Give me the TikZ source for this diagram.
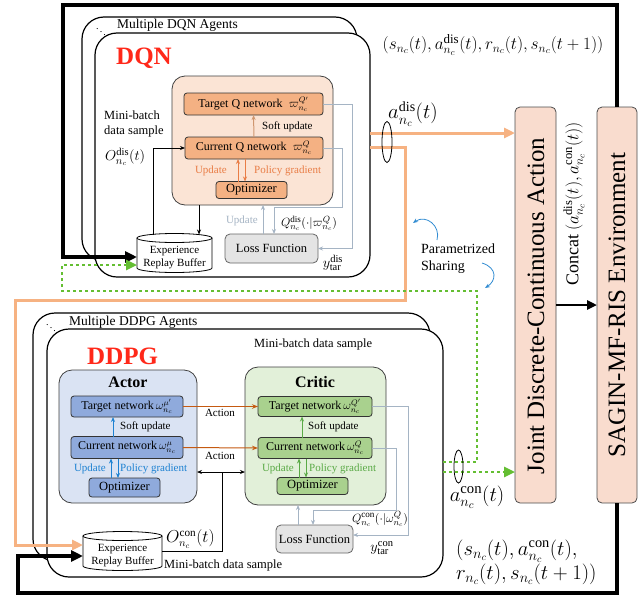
\documentclass[tikz,border=0pt]{standalone}
\usepackage{fontspec}
\setmainfont{Liberation Serif}
\usetikzlibrary{arrows.meta,shapes.geometric}

\definecolor{dqnpanel}{RGB}{251,228,213}
\definecolor{dqnbox}{RGB}{244,177,131}
\definecolor{dqntext}{RGB}{233,125,70}
\definecolor{orangeln}{RGB}{246,178,130}
\definecolor{actpanel}{RGB}{218,227,243}
\definecolor{actbox}{RGB}{143,170,220}
\definecolor{acttext}{RGB}{30,130,210}
\definecolor{crtpanel}{RGB}{226,240,217}
\definecolor{crtbox}{RGB}{169,209,142}
\definecolor{crttext}{RGB}{90,170,70}
\definecolor{lossfill}{RGB}{228,228,228}
\definecolor{grayln}{RGB}{165,180,196}
\definecolor{actionln}{RGB}{197,90,17}
\definecolor{greenln}{RGB}{100,190,50}
\definecolor{tallfill}{RGB}{249,220,206}
\definecolor{redtitle}{RGB}{255,40,25}
\definecolor{bluecurve}{RGB}{50,140,210}

\tikzset{
  agentbox/.style={draw=black, line width=1.2pt, rounded corners=22pt, fill=white, inner sep=0pt, outer sep=0pt},
  panelbox/.style={draw=black!75, line width=0.8pt, rounded corners=13pt, inner sep=0pt, outer sep=0pt},
  netbox/.style={draw=black!80, line width=0.8pt, rounded corners=3pt, inner sep=0pt, outer sep=0pt, font=\fontsize{12}{14}\selectfont},
  lossbox/.style={netbox, fill=lossfill, draw=black!60, rounded corners=5pt, font=\fontsize{12.5}{15}\selectfont},
  tallbox/.style={draw=black!70, line width=0.8pt, rounded corners=5pt, fill=tallfill, inner sep=0pt, outer sep=0pt},
  bufspace/.style={inner sep=0pt, outer sep=0pt, align=center, font=\fontsize{11}{13}\selectfont},
  lbl/.style={inner sep=0pt, font=\fontsize{12.5}{15}\selectfont},
  mathlbl/.style={inner sep=0pt, font=\fontsize{15}{18}\selectfont},
  actlbl/.style={inner sep=0pt, font=\fontsize{20}{23}\selectfont},
  smalllbl/.style={inner sep=0pt, font=\fontsize{11}{13}\selectfont},
  title/.style={inner sep=0pt, font=\fontsize{25}{28}\bfseries\selectfont, text=redtitle},
  looparrow/.style={line width=3.5pt, -{Triangle[length=12pt,width=11pt]}},
  orangeline/.style={draw=orangeln, line width=3pt},
  orangearrow/.style={orangeline, -{Triangle[length=11pt,width=10pt]}},
  greenline/.style={draw=greenln, line width=2.6pt, dash pattern=on 3pt off 3pt},
  greenarrow/.style={greenline, -{Triangle[length=11pt,width=10pt]}},
  grayarrow/.style={draw=grayln, line width=1pt, -{Stealth[length=5pt,width=4pt]}},
  thinarrow/.style={line width=1pt, -{Stealth[length=5pt,width=4pt]}},
  actionarrow/.style={draw=actionln, line width=1pt, -{Stealth[length=6pt,width=4.5pt]}},
}

\begin{document}
\begin{tikzpicture}[x=1pt,y=-1pt]
\useasboundingbox (0,0) rectangle (644,597);

% ---------------- DQN agents ----------------
\node[agentbox, minimum width=275pt, minimum height=244pt] (dqnBack) at (219.5,139) {};
\node[inner sep=0pt, font=\fontsize{10}{10}\selectfont] (dqnDots) at (101,29) {$\ddots$};
\node[lbl, anchor=west, font=\fontsize{13.5}{16}\selectfont] (dqnMulti) at (117,25) {Multiple DQN Agents};
\node[agentbox, minimum width=275pt, minimum height=244pt] (dqnFront) at (232.5,155) {};
\node[title, anchor=west] (dqnTitle) at (116,58) {DQN};

\node[panelbox, fill=dqnpanel, minimum width=161pt, minimum height=129pt] (dqnPanel) at (252.5,140.5) {};
\node[netbox, fill=dqnbox, minimum width=139pt, minimum height=22pt] (tq) at (253.5,104) {Target Q network\; $\varpi^{Q'}_{n_c}$};
\node[netbox, fill=dqnbox, minimum width=138pt, minimum height=22pt] (cq) at (254,148) {Current Q network\; $\varpi^{Q}_{n_c}$};
\node[netbox, fill=dqnbox, minimum width=71pt, minimum height=17pt, font=\fontsize{12.5}{15}\selectfont] (opt1) at (251.5,190) {Optimizer};

\node[smalllbl, anchor=west] (su1) at (262,127) {Soft update};
\node[smalllbl, anchor=east, text=dqntext] (up1) at (227,171) {Update};
\node[smalllbl, anchor=west, text=dqntext] (pg1) at (254,171) {Policy gradient};

\node[lbl, align=left, anchor=west] (mb1) at (104,124) {Mini-batch\\data sample};
\node[mathlbl, anchor=west] (odis) at (105,157) {$O^{\mathrm{dis}}_{n_c}(t)$};

% replay buffer (DQN)
\node[bufspace, minimum width=75pt, minimum height=30pt] (rb1) at (174.5,253) {};
\draw[line width=0.8pt, fill=white] (rb1.north west) -- (rb1.south west)
  arc[start angle=180, end angle=360, x radius=37.5pt, y radius=4.5pt] -- (rb1.north east);
\draw[line width=0.8pt, fill=white] (rb1.north) ellipse [x radius=37.5pt, y radius=4.5pt];
\node[bufspace] (rb1txt) at (174.5,258) {Experience\\Replay Buffer};

\node[lossbox, minimum width=93pt, minimum height=29pt] (loss1) at (271.5,248.5) {Loss Function};
\node[smalllbl, anchor=east, text=grayln] (up1g) at (258,221) {Update};
\node[inner sep=0pt, font=\fontsize{13}{15}\selectfont] (qdis) at (309,223) {$Q^{\mathrm{dis}}_{n_c}(\cdot|\varpi^{Q}_{n_c})$};
\node[mathlbl] (ydis) at (333,263) {$y^{\mathrm{dis}}_{\mathrm{tar}}$};

% DQN internal connectors
\draw[thinarrow, draw=dqnbox!85!black] (cq.north) -- (tq.south);
\draw[thinarrow, draw=dqntext] ([xshift=-13.5pt]opt1.north) -- ([xshift=-13.5pt]opt1.north |- cq.south);
\draw[thinarrow, draw=dqntext] ([xshift=-6.5pt]opt1.north |- cq.south) -- ([xshift=-6.5pt]opt1.north);
\draw[thinarrow] ([xshift=24.5pt]rb1.north |- dqnPanel.south) -- ([xshift=24.5pt,yshift=3.5pt]rb1.north);
\draw[thinarrow] ([xshift=-21.5pt,yshift=3pt]rb1.north) |- (cq.west);
\coordinate (g1) at (342,207);
\draw[grayarrow] (tq.east) -| ([xshift=34pt]loss1.east) -- (loss1.east);
\draw[grayarrow] (cq.east) -| (g1) -| ([xshift=2.5pt]loss1.north);
\draw[grayarrow] ([xshift=-8.5pt]loss1.north) -- ([xshift=-8.5pt]loss1.north |- dqnPanel.south);

% ---------------- DDPG agents ----------------
\node[agentbox, minimum width=397pt, minimum height=248pt] (ddpgBack) at (231.5,437) {};
\node[inner sep=0pt, font=\fontsize{10}{10}\selectfont] (ddpgDots) at (51,325) {$\ddots$};
\node[lbl, anchor=west, font=\fontsize{13.5}{16}\selectfont] (ddpgMulti) at (69,322) {Multiple DDPG Agents};
\node[agentbox, minimum width=396pt, minimum height=248pt] (ddpgFront) at (245,453) {};
\node[title, anchor=west] (ddpgTitle) at (87,356) {DDPG};
\node[lbl, anchor=west] (mb2) at (254,344) {Mini-batch data sample};

% actor
\node[panelbox, fill=actpanel, minimum width=138pt, minimum height=133pt] (actor) at (128,436.5) {};
\node[inner sep=0pt, font=\fontsize{16}{18}\bfseries\selectfont] (actorT) at (128,382) {Actor};
\node[netbox, fill=actbox, minimum width=112pt, minimum height=21pt] (atn) at (127,406.5) {Target network\,$\omega^{\mu'}_{n_c}$};
\node[netbox, fill=actbox, minimum width=112pt, minimum height=22pt] (acn) at (127,447.5) {Current network\,$\omega^{\mu}_{n_c}$};
\node[netbox, fill=actbox, minimum width=71pt, minimum height=19pt, font=\fontsize{12.5}{15}\selectfont] (aopt) at (124.5,487.5) {Optimizer};
\node[smalllbl, anchor=west] (su2) at (120,427) {Soft update};
\node[smalllbl, anchor=east, text=acttext] (up2) at (106,469) {Update};
\node[smalllbl, anchor=west, text=acttext] (pg2) at (120,469) {Policy gradient};
\draw[thinarrow, draw=acttext] ([xshift=-14pt]acn.north) -- ([xshift=-14pt]atn.south);
\draw[thinarrow, draw=acttext] ([xshift=-13.5pt]aopt.north) -- ([xshift=-13.5pt]aopt.north |- acn.south);
\draw[thinarrow, draw=acttext] ([xshift=-6.5pt]aopt.north |- acn.south) -- ([xshift=-6.5pt]aopt.north);

% critic
\node[panelbox, fill=crtpanel, minimum width=141pt, minimum height=138pt] (critic) at (315.5,436) {};
\node[inner sep=0pt, font=\fontsize{16}{18}\bfseries\selectfont] (criticT) at (315,382) {Critic};
\node[netbox, fill=crtbox, minimum width=114pt, minimum height=20pt] (ctn) at (315,406.5) {Target network\,$\omega^{Q'}_{n_c}$};
\node[netbox, fill=crtbox, minimum width=114pt, minimum height=21pt] (ccn) at (315,448) {Current network\,$\omega^{Q}_{n_c}$};
\node[netbox, fill=crtbox, minimum width=71pt, minimum height=17pt, font=\fontsize{12.5}{15}\selectfont] (copt) at (312.5,486) {Optimizer};
\node[smalllbl, anchor=west] (su3) at (308,427) {Soft update};
\node[smalllbl, anchor=east, text=crttext] (up3) at (294,469) {Update};
\node[smalllbl, anchor=west, text=crttext] (pg3) at (309,469) {Policy gradient};
\draw[thinarrow, draw=crttext] ([xshift=-13pt]ccn.north) -- ([xshift=-13pt]ctn.south);
\draw[thinarrow, draw=crttext] ([xshift=-13.5pt]copt.north) -- ([xshift=-13.5pt]copt.north |- ccn.south);
\draw[thinarrow, draw=crttext] ([xshift=-6.5pt]copt.north |- ccn.south) -- ([xshift=-6.5pt]copt.north);

% actions between actor and critic
\draw[actionarrow] (atn.east) -- (ctn.west);
\draw[actionarrow] (acn.east) -- (ccn.west);
\node[smalllbl] (act1) at (220,413) {Action};
\node[smalllbl] (act2) at (220,456) {Action};

% replay buffer (DDPG)
\node[bufspace, minimum width=79pt, minimum height=30pt] (rb2) at (122.5,551) {};
\draw[line width=0.8pt, fill=white] (rb2.north west) -- (rb2.south west)
  arc[start angle=180, end angle=360, x radius=39.5pt, y radius=4.5pt] -- (rb2.north east);
\draw[line width=0.8pt, fill=white] (rb2.north) ellipse [x radius=39.5pt, y radius=4.5pt];
\node[bufspace] (rb2txt) at (122.5,556) {Experience\\Replay Buffer};

\coordinate (mbSplit) at (222,472);
\draw[line width=1pt, {Stealth[length=5pt,width=4pt]}-{Stealth[length=5pt,width=4pt]}] (mbSplit -| actor.east) -- (mbSplit -| critic.west);
\draw[line width=1pt] (mbSplit) |- (rb2.east);
\node[mathlbl, anchor=west, font=\fontsize{16}{19}\selectfont] (ocon) at (166,539) {$O^{\mathrm{con}}_{n_c}(t)$};
\node[lbl, anchor=west] (mb3) at (164,565) {Mini-batch data sample};

% loss (DDPG)
\node[lossbox, minimum width=77pt, minimum height=28pt] (loss2) at (314.5,539) {Loss Function};
\coordinate (g2) at (396,510);
\draw[grayarrow] (ctn.east) -| ([xshift=55pt,yshift=4pt]loss2.east) -- ([yshift=4pt]loss2.east);
\draw[grayarrow] (ccn.east) -| (g2) -| ([xshift=-1.5pt]loss2.north);
\draw[grayarrow] ([xshift=-16.5pt]loss2.north) -- ([xshift=-16.5pt]loss2.north |- critic.south);
\node[inner sep=0pt, font=\fontsize{13}{15}\selectfont] (qcon) at (380,519) {$Q^{\mathrm{con}}_{n_c}(\cdot|\omega^{Q}_{n_c})$};
\node[mathlbl] (ycon) at (382,548) {$y^{\mathrm{con}}_{\mathrm{tar}}$};

% ---------------- action joiner and environment ----------------
\node[tallbox, minimum width=41pt, minimum height=396pt] (joint) at (535.5,305) {};
\node[inner sep=0pt, rotate=90, font=\fontsize{25}{29}\selectfont] (jointT) at (536,306) {Joint Discrete-Continuous Action};
\node[tallbox, minimum width=40pt, minimum height=396pt] (env) at (617,305) {};
\node[inner sep=0pt, rotate=90, font=\fontsize{25}{29}\selectfont] (envT) at (617,305) {SAGIN-MF-RIS Environment};
\draw[looparrow, line width=2.5pt, -{Triangle[length=10pt,width=9pt]}] (joint.east) -- (env.west);
\node[inner sep=0pt, rotate=90, font=\fontsize{18}{21}\selectfont] (concat) at (574,204) {Concat $(a^{\mathrm{dis}}_{n_c}(t), a^{\mathrm{con}}_{n_c}(t))$};

% interaction loops with the environment
\coordinate (loopTL) at (63,5);
\coordinate (loopBL) at (18,593);
\draw[looparrow] (env.north) |- (loopTL) |- ([yshift=-4pt]rb1.west);
\draw[looparrow] (env.south) |- (loopBL) |- ([yshift=-5pt]rb2.west);
\node[inner sep=0pt, font=\fontsize{18.5}{22}\selectfont] (tupDis) at (493,45) {$(s_{n_c}(t), a^{\mathrm{dis}}_{n_c}(t), r_{n_c}(t), s_{n_c}(t+1))$};
\node[inner sep=0pt, align=left, anchor=west, font=\fontsize{20.5}{21}\selectfont] (tupCon) at (456,562) {$(s_{n_c}(t), a^{\mathrm{con}}_{n_c}(t),$\\$r_{n_c}(t), s_{n_c}(t+1))$};

% discrete action output
\coordinate (oA) at (370,133);
\coordinate (oB) at (370,147);
\coordinate (oB2) at (405,300);
\coordinate (oB3) at (15,545);
\draw[orangearrow] (oA) -- (oA -| joint.west);
\draw[orangearrow] (oB) -| (oB2) -| (oB3) -- ([yshift=6pt]rb2.west);
\node[draw, line width=0.8pt, ellipse, minimum width=10pt, minimum height=41pt, inner sep=0pt] (ellDis) at (387,142) {};
\node[actlbl] (adis) at (413,114) {$a^{\mathrm{dis}}_{n_c}(t)$};

% continuous action output and parameter sharing
\coordinate (gA) at (443,462);
\coordinate (gB) at (477,291);
\coordinate (gC) at (62,265);
\coordinate (gD) at (443,472);
\draw[greenarrow] (gA) -| (gB) -| (gC) -- ([yshift=-12pt]rb1.west);
\draw[greenarrow] (gD) -- (gD -| joint.west);
\node[draw, line width=0.8pt, ellipse, minimum width=9pt, minimum height=33pt, inner sep=0pt] (ellCon) at (458.5,466.5) {};
\node[actlbl, font=\fontsize{21}{24}\selectfont] (acon) at (477,497) {$a^{\mathrm{con}}_{n_c}(t)$};

\node[lbl, align=left, anchor=west, font=\fontsize{14}{17}\selectfont] (share) at (421,259) {Parametrized\\Sharing};
\coordinate (s1a) at (437,240);
\coordinate (s1b) at (413,223);
\coordinate (s2a) at (482,263);
\coordinate (s2b) at (485,288);
\draw[draw=bluecurve, line width=0.8pt, -{Stealth[length=5pt,width=4pt]}] (s1a) .. controls (441,226) and (426,214) .. (s1b);
\draw[draw=bluecurve, line width=0.8pt, -{Stealth[length=5pt,width=4pt]}] (s2a) .. controls (498,268) and (496,281) .. (s2b);
\end{tikzpicture}
\end{document}
